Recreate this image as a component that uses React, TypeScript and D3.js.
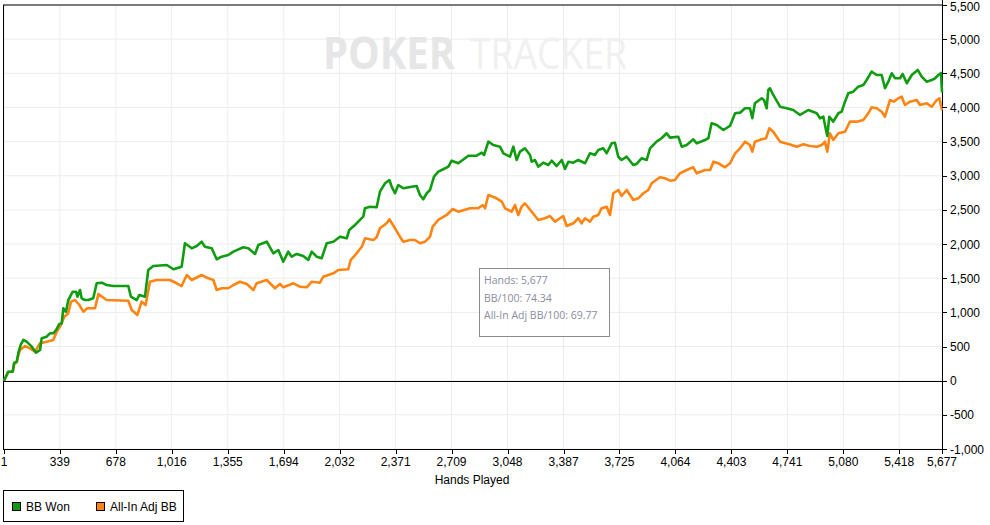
import * as d3 from "d3";

// hands played, cumulative big blinds won
const bbWon: [number, number][] = [
  [1, 0], [27, 132], [54, 132], [62, 259], [78, 278], [88, 406], [102, 523], [118, 596],
  [138, 571], [169, 498], [195, 410], [219, 449], [229, 621], [259, 644], [279, 694], [299, 694],
  [316, 742], [336, 830], [350, 840], [360, 1060], [376, 1010], [390, 1181], [417, 1303], [437, 1303],
  [445, 1230], [461, 1328], [471, 1206], [491, 1181], [511, 1181], [541, 1206], [562, 1426], [592, 1435],
  [622, 1401], [662, 1386], [753, 1386], [769, 1230], [804, 1181], [820, 1255], [854, 1230], [874, 1621],
  [904, 1679], [986, 1694], [1026, 1631], [1076, 1669], [1096, 2012], [1137, 1938], [1167, 1972], [1197, 2035],
  [1217, 1962], [1258, 1938], [1288, 1777], [1318, 1815], [1358, 1840], [1389, 1889], [1449, 1953], [1479, 1938],
  [1520, 1855], [1540, 1987], [1591, 2035], [1631, 1865], [1661, 1913], [1691, 1742], [1721, 1889], [1742, 1815],
  [1772, 1855], [1812, 1826], [1842, 1767], [1863, 1889], [1893, 1815], [1923, 1792], [1954, 2012], [1994, 2035],
  [2034, 2108], [2075, 2085], [2090, 2206], [2125, 2279], [2155, 2353], [2175, 2401], [2185, 2524], [2216, 2547],
  [2256, 2539], [2276, 2767], [2307, 2890], [2333, 2938], [2347, 2840], [2367, 2744], [2387, 2865], [2417, 2817],
  [2468, 2840], [2498, 2850], [2518, 2719], [2538, 2656], [2559, 2744], [2579, 2792], [2603, 2987], [2629, 3060],
  [2659, 3095], [2690, 3133], [2710, 3221], [2750, 3183], [2811, 3294], [2861, 3294], [2892, 3338], [2906, 3304],
  [2932, 3499], [2962, 3451], [3002, 3426], [3023, 3329], [3063, 3279], [3083, 3426], [3103, 3231], [3123, 3353],
  [3153, 3402], [3184, 3304], [3194, 3206], [3214, 3231], [3234, 3133], [3264, 3192], [3295, 3158], [3315, 3221],
  [3345, 3143], [3376, 3231], [3396, 3099], [3416, 3206], [3446, 3192], [3476, 3231], [3517, 3183], [3547, 3329],
  [3577, 3304], [3597, 3377], [3627, 3402], [3648, 3329], [3678, 3475], [3698, 3484], [3718, 3279], [3738, 3231],
  [3769, 3279], [3809, 3158], [3829, 3173], [3859, 3256], [3890, 3231], [3910, 3402], [3950, 3499], [3980, 3549],
  [4011, 3622], [4031, 3558], [4081, 3572], [4102, 3426], [4132, 3451], [4172, 3534], [4193, 3475], [4243, 3524],
  [4263, 3549], [4283, 3768], [4314, 3743], [4354, 3670], [4394, 3729], [4425, 3915], [4455, 3924], [4485, 3988],
  [4515, 3988], [4529, 3842], [4545, 4061], [4586, 4134], [4600, 4109], [4616, 3988], [4626, 4256], [4636, 4281],
  [4656, 4183], [4697, 4011], [4737, 3988], [4777, 3963], [4818, 3890], [4868, 3963], [4919, 3915], [4939, 3842],
  [4959, 3865], [4975, 3670], [4983, 3582], [4995, 3865], [5019, 3792], [5050, 3915], [5070, 3938], [5090, 4085],
  [5110, 4207], [5140, 4231], [5170, 4304], [5201, 4329], [5221, 4402], [5251, 4524], [5282, 4475], [5312, 4475],
  [5332, 4281], [5352, 4377], [5373, 4500], [5393, 4427], [5423, 4427], [5439, 4490], [5464, 4354], [5494, 4475],
  [5530, 4549], [5554, 4451], [5584, 4377], [5615, 4402], [5635, 4427], [5655, 4475], [5671, 4505], [5677, 4220],
];

// hands played, all-in adjusted big blinds
const allInAdj: [number, number][] = [
  [1, 0], [27, 132], [54, 132], [62, 240], [78, 270], [88, 380], [98, 449], [128, 508],
  [158, 474], [189, 425], [219, 548], [259, 571], [299, 596], [320, 717], [340, 791], [366, 937],
  [390, 987], [406, 1157], [431, 1181], [457, 1108], [481, 1010], [505, 1060], [552, 1060], [572, 1269],
  [622, 1181], [753, 1171], [774, 1035], [808, 962], [834, 1157], [858, 1108], [884, 1449], [925, 1474],
  [1005, 1474], [1046, 1426], [1076, 1386], [1107, 1547], [1137, 1474], [1197, 1547], [1237, 1499], [1268, 1474],
  [1288, 1328], [1318, 1353], [1358, 1353], [1389, 1401], [1429, 1449], [1470, 1416], [1510, 1328], [1530, 1426],
  [1591, 1474], [1621, 1401], [1641, 1353], [1671, 1416], [1691, 1367], [1752, 1426], [1792, 1376], [1833, 1367],
  [1863, 1449], [1913, 1435], [1933, 1523], [1994, 1572], [2024, 1621], [2084, 1631], [2099, 1767], [2135, 1865],
  [2166, 1962], [2186, 2085], [2236, 2060], [2256, 2099], [2276, 2231], [2317, 2304], [2333, 2363], [2367, 2231],
  [2397, 2108], [2417, 2035], [2458, 2060], [2488, 2060], [2518, 2012], [2549, 2035], [2579, 2108], [2595, 2255],
  [2629, 2353], [2680, 2426], [2716, 2514], [2750, 2474], [2821, 2524], [2871, 2524], [2898, 2572], [2912, 2524],
  [2932, 2719], [2982, 2670], [3013, 2621], [3033, 2524], [3073, 2474], [3093, 2572], [3113, 2426], [3133, 2547],
  [3153, 2597], [3194, 2474], [3234, 2353], [3274, 2378], [3305, 2411], [3335, 2328], [3365, 2378], [3385, 2411],
  [3406, 2265], [3446, 2304], [3476, 2378], [3496, 2304], [3517, 2378], [3547, 2328], [3567, 2401], [3597, 2426],
  [3617, 2524], [3648, 2547], [3668, 2426], [3688, 2744], [3718, 2792], [3738, 2704], [3769, 2792], [3809, 2645],
  [3839, 2670], [3870, 2744], [3900, 2792], [3920, 2890], [3970, 2978], [4000, 2963], [4031, 2928], [4061, 2938],
  [4091, 3036], [4132, 3085], [4172, 3124], [4193, 3036], [4243, 3085], [4274, 3085], [4294, 3206], [4324, 3183],
  [4364, 3124], [4394, 3183], [4425, 3329], [4455, 3402], [4485, 3499], [4515, 3451], [4529, 3353], [4545, 3499],
  [4586, 3534], [4612, 3549], [4632, 3695], [4656, 3645], [4697, 3499], [4747, 3465], [4798, 3426], [4838, 3461],
  [4878, 3436], [4919, 3426], [4949, 3451], [4969, 3499], [4983, 3353], [4999, 3622], [5019, 3524], [5050, 3622],
  [5090, 3645], [5120, 3792], [5160, 3792], [5201, 3817], [5231, 3915], [5251, 4003], [5282, 3988], [5312, 3938],
  [5332, 3865], [5362, 4109], [5386, 4085], [5413, 4134], [5433, 4158], [5453, 4036], [5483, 4085], [5524, 4109],
  [5544, 4036], [5584, 4061], [5615, 4011], [5645, 4109], [5661, 4134], [5677, 3961],
];

const xTicks = [1, 339, 678, 1016, 1355, 1694, 2032, 2371, 2709, 3048, 3387, 3725, 4064, 4403, 4741, 5080, 5418, 5677];
const yTicks = [-1000, -500, 0, 500, 1000, 1500, 2000, 2500, 3000, 3500, 4000, 4500, 5000, 5500];

const seriesNames = ["BB Won", "All-In Adj BB"];
const seriesColors = ["#109c10", "#ff8412"];
const tooltipLines = ["Hands: 5,677", "BB/100: 74.34", "All-In Adj BB/100: 69.77"];

const W = 990;
const H = 525;
const left = 4;
const right = 942;
const top = 5;
const bottom = 449;

const axisFont = "'Liberation Sans', Arial, sans-serif";

export default function App() {
  const x = d3.scaleLinear().domain([1, 5677]).range([left, right]);
  const y = d3.scaleLinear().domain([-1000, 5500]).range([bottom, top]);
  // plain hyphen for negatives, as in the original
  const fmt = (v: number) => d3.format(",")(v).replace("\u2212", "-");

  const line = d3
    .line<[number, number]>()
    .x((d) => x(d[0]))
    .y((d) => y(d[1]))
    .curve(d3.curveLinear);

  return (
    <svg
      width={W}
      height={H}
      style={{ position: "absolute", left: 0, top: 0, background: "#fff" }}
    >
      {/* grid */}
      {yTicks.map((t) => (
        <line key={"gy" + t} x1={left} x2={right} y1={y(t)} y2={y(t)} stroke="#ececec" strokeWidth={1} />
      ))}
      {xTicks.map((t) => (
        <line key={"gx" + t} x1={x(t)} x2={x(t)} y1={top} y2={bottom} stroke="#ececec" strokeWidth={1} />
      ))}

      {/* watermark */}
      <text x={323} y={69} fontFamily="'Open Sans', sans-serif" fontWeight={700} fontSize={44}
        fill="#e6e6e6" textLength={132} lengthAdjust="spacingAndGlyphs">POKER</text>
      <text x={470} y={69} fontFamily="'Open Sans', sans-serif" fontWeight={400} fontSize={44}
        fill="#f0f0f0" textLength={157} lengthAdjust="spacingAndGlyphs">TRACKER</text>

      {/* frame */}
      <line x1={left - 1} x2={right} y1={top} y2={top} stroke="#000" />
      <line x1={left - 0.5} x2={left - 0.5} y1={top} y2={bottom} stroke="#000" />
      <line x1={left - 1} x2={right} y1={bottom + 0.5} y2={bottom + 0.5} stroke="#000" />
      <line x1={right + 0.5} x2={right + 0.5} y1={top - 5} y2={bottom + 1} stroke="#000" />
      <line x1={left} x2={right} y1={Math.round(y(0)) + 0.5} y2={Math.round(y(0)) + 0.5} stroke="#000" />

      {/* series */}
      <path d={line(allInAdj) ?? ""} fill="none" stroke={seriesColors[1]} strokeWidth={2.6} strokeLinejoin="round" />
      <path d={line(bbWon) ?? ""} fill="none" stroke={seriesColors[0]} strokeWidth={2.6} strokeLinejoin="round" />

      {/* y axis (right) */}
      {yTicks.map((t) => (
        <g key={"yt" + t}>
          <line x1={right} x2={right + 5} y1={Math.round(y(t)) + 0.5} y2={Math.round(y(t)) + 0.5} stroke="#000" />
          <text x={right + 8} y={Math.max(y(t) + 4.5, 11)} fontFamily={axisFont} fontSize={12} fill="#000">
            {fmt(t)}
          </text>
        </g>
      ))}

      {/* x axis */}
      {xTicks.map((t) => (
        <g key={"xt" + t}>
          <line x1={Math.round(x(t)) + 0.5} x2={Math.round(x(t)) + 0.5} y1={bottom} y2={bottom + 5} stroke="#000" />
          <text x={x(t)} y={bottom + 17} textAnchor="middle" fontFamily={axisFont} fontSize={12} fill="#000">
            {fmt(t)}
          </text>
        </g>
      ))}
      <text x={472} y={484} textAnchor="middle" fontFamily={axisFont} fontSize={12} fill="#000">
        Hands Played
      </text>

      {/* tooltip box */}
      <rect x={479.5} y={268.5} width={130} height={68} fill="#fff" fillOpacity={0.85} stroke="#8c8c8c" />
      {tooltipLines.map((s, i) => (
        <text key={s} x={484} y={284 + i * 17.5} fontFamily="'Open Sans', sans-serif" fontSize={10.5} fill="#8b8ba0">
          {s}
        </text>
      ))}

      {/* legend */}
      <rect x={3.5} y={490.5} width={180} height={31} fill="#fff" stroke="#000" />
      {seriesNames.map((n, i) => {
        const lx = i === 0 ? 12 : 96;
        return (
          <g key={n}>
            <rect x={lx + 0.5} y={502.5} width={8} height={8} fill={seriesColors[i]} stroke="#000" />
            <text x={lx + 14} y={511} fontFamily={axisFont} fontSize={12} fill="#000">
              {n}
            </text>
          </g>
        );
      })}
    </svg>
  );
}
